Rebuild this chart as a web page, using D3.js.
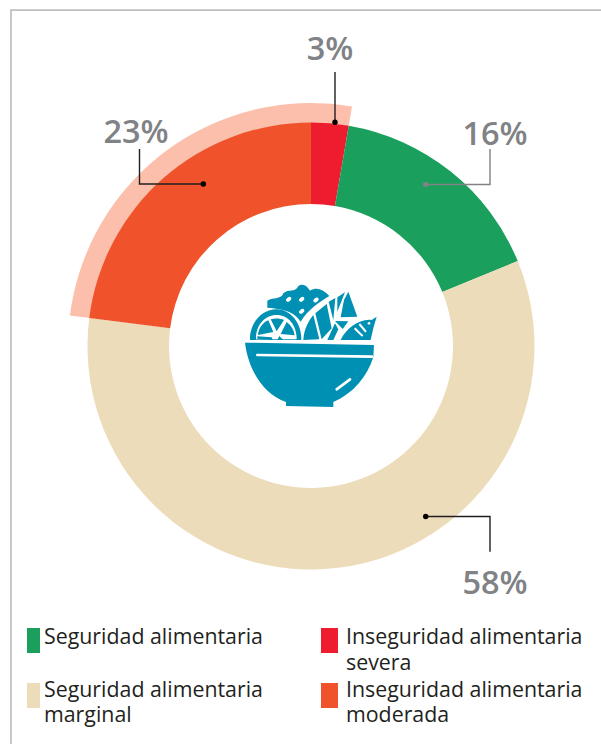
<!DOCTYPE html>
<html>
<head>
<meta charset="utf-8">
<script src="https://cdnjs.cloudflare.com/ajax/libs/d3/7.8.5/d3.min.js"></script>
<style>
  html, body { margin: 0; padding: 0; background: #fff; }
  svg { display: block; }
  text { font-family: "Open Sans", sans-serif; }
</style>
</head>
<body>
<div id="chart"></div>
<script>
// Slice sizes, clockwise from 12 o'clock
const categories = ['Inseguridad alimentaria severa', 'Seguridad alimentaria', 'Seguridad alimentaria marginal', 'Inseguridad alimentaria moderada'];
const shares = [2.7, 16.1, 58.2, 23];
const colors = ['#ED1C2E', '#1A9F5C', '#ECDCB9', '#F0532B'];
const highlighted = ['Inseguridad alimentaria severa', 'Inseguridad alimentaria moderada'];

// Legend order, wrapped lines as printed
const legendItems = [
  { key: 'Seguridad alimentaria', lines: ['Seguridad alimentaria'] },
  { key: 'Inseguridad alimentaria severa', lines: ['Inseguridad alimentaria', 'severa'] },
  { key: 'Seguridad alimentaria marginal', lines: ['Seguridad alimentaria', 'marginal'] },
  { key: 'Inseguridad alimentaria moderada', lines: ['Inseguridad alimentaria', 'moderada'] }
];

const width = 601;
const height = 744;
const cx = 311;
const cy = 346;
const innerR = 142;
const outerR = 223.5;
const haloR = 243;

const svg = d3.select('#chart').append('svg')
  .attr('width', width)
  .attr('height', height);

// Frame, only top and left
svg.append('path')
  .attr('d', `M${width},10.2H11V${height}`)
  .attr('fill', 'none')
  .attr('stroke', '#BFBFBF')
  .attr('stroke-width', 1.7);

const color = d3.scaleOrdinal().domain(categories).range(colors);

const pie = d3.pie().sort(null).value((d, i) => shares[i]);
const arcs = pie(categories);
const arc = d3.arc().innerRadius(innerR).outerRadius(outerR);
const haloArc = d3.arc().innerRadius(outerR - 0.5).outerRadius(haloR);

const g = svg.append('g').attr('transform', `translate(${cx},${cy})`);

// Pale band behind the two food insecurity slices
g.selectAll('path.halo')
  .data(arcs.filter(d => highlighted.includes(d.data)))
  .enter()
  .append('path')
  .attr('class', 'halo')
  .attr('d', haloArc)
  .attr('fill', '#FBBFAB');

g.selectAll('path.slice')
  .data(arcs)
  .enter()
  .append('path')
  .attr('class', 'slice')
  .attr('d', arc)
  .attr('fill', d => color(d.data));

// Leader lines, label anchor positions are per-slice
const leaders = [
  { label: '3%', stroke: '#231F20', d: 'M335,72V122', dot: [335, 122.3], x: 330, y: 60 },
  { label: '16%', stroke: '#808285', d: 'M490,149V184.5H425', dot: [425.7, 184.5], x: 495, y: 145 },
  { label: '58%', stroke: '#231F20', d: 'M490,551.7V516.5H425', dot: [425.7, 516.5], x: 495, y: 594 },
  { label: '23%', stroke: '#231F20', d: 'M139.5,149V184H203', dot: [203.3, 184], x: 136, y: 143 }
];

const leader = svg.append('g').selectAll('g')
  .data(leaders)
  .enter()
  .append('g');

leader.append('path')
  .attr('d', d => d.d)
  .attr('fill', 'none')
  .attr('stroke', d => d.stroke)
  .attr('stroke-width', 1.4);

leader.append('circle')
  .attr('cx', d => d.dot[0])
  .attr('cy', d => d.dot[1])
  .attr('r', 2.7)
  .attr('fill', d => d.stroke === '#808285' ? '#808285' : '#000');

leader.append('text')
  .attr('x', d => d.x)
  .attr('y', d => d.y)
  .attr('text-anchor', 'middle')
  .attr('font-size', 32.5)
  .attr('font-weight', 600)
  .attr('fill', '#808285')
  .text(d => d.label);

// Food bowl icon, traced at 3x from origin (220,260)
const icon = svg.append('g')
  .attr('transform', 'translate(220,260) scale(0.3333)')
  .attr('fill', '#0090B4');

icon.append('path').attr('d', 'M75,248 L462,255 L460,291 C442,350 400,400 340,426 L340,441 L198,438 L198,426 C130,402 85,330 75,248 Z');
icon.append('path').attr('d', 'M112,285 L456,290').attr('stroke', '#fff').attr('stroke-width', 8).attr('stroke-linecap', 'round').attr('fill', 'none');
icon.append('path').attr('d', 'M350,388 L390,358').attr('stroke', '#fff').attr('stroke-width', 8).attr('stroke-linecap', 'round').attr('fill', 'none');

// lettuce
icon.append('path').attr('d', 'M142,143 L142,122 C160,112 185,118 190,100 C205,85 225,100 235,78 C250,68 262,78 270,92 C290,80 310,88 328,108 C300,125 262,150 242,185 C225,160 205,148 142,143 Z');
icon.selectAll('ellipse.hole')
  .data([[206, 118], [245, 118], [288, 120], [245, 154]])
  .enter()
  .append('ellipse')
  .attr('class', 'hole')
  .attr('cx', d => d[0])
  .attr('cy', d => d[1])
  .attr('rx', 9)
  .attr('ry', 6)
  .attr('transform', d => `rotate(-35 ${d[0]} ${d[1]})`)
  .attr('fill', '#fff');

// lime
icon.append('path').attr('d', 'M90,240 C88,190 125,148 170,148 C212,148 245,190 244,240 Z');
icon.append('path').attr('d', 'M108,238 C106,196 135,165 170,165 C205,165 230,196 230,238 Z').attr('fill', '#fff');
icon.append('path').attr('d', 'M114,225 C115,205 128,188 145,181 L160,216 Z M152,178 C165,174 180,175 192,180 L170,214 Z M200,186 C214,196 222,210 224,226 L182,222 Z M112,236 L112,229 L155,232 L158,240 Z M172,240 L178,228 L190,240 Z');

// leaf and fin
icon.append('path').attr('d', 'M250,240 C252,205 268,180 280,165 L298,238 Z M286,160 L320,132 L335,205 L305,238 Z M326,125 L346,114 L340,180 Z M352,112 L375,97 L352,155 Z');
icon.append('path').attr('d', 'M372,120 L385,95 L412,170 L362,172 Z');
icon.append('path').attr('d', 'M322,240 L345,190 L355,208 L340,240 Z M345,183 L385,184 L368,207 Z');
// fish
icon.append('path').attr('d', 'M362,240 C378,205 420,175 455,180 L470,170 L460,205 L452,240 Z');
icon.append('path').attr('d', 'M418,192 C425,200 432,208 438,216 M404,205 C412,213 420,220 428,228').attr('stroke', '#fff').attr('stroke-width', 6).attr('fill', 'none');
icon.append('circle').attr('cx', 447).attr('cy', 190).attr('r', 4).attr('fill', '#fff');

// Legend, text baselines do not sit at the same offset from the swatch in both rows
const legendPos = [[27, 628], [321, 628], [27, 683], [321, 683]];
const legendBaseline = [644.3, 644.3, 696.7, 696.7];
const legendLine = 25.7;

const legend = svg.append('g').selectAll('g')
  .data(legendItems)
  .enter()
  .append('g');

legend.append('rect')
  .attr('x', (d, i) => legendPos[i][0])
  .attr('y', (d, i) => legendPos[i][1])
  .attr('width', (d, i) => i % 2 ? 17 : 13)
  .attr('height', 25)
  .attr('fill', d => color(d.key));

legend.append('text')
  .attr('font-size', 21.35)
  .attr('fill', '#231F20')
  .each(function (d, i) {
    const x = legendPos[i][0] + (i % 2 ? 25 : 17);
    d3.select(this).selectAll('tspan')
      .data(d.lines)
      .enter()
      .append('tspan')
      .attr('x', x)
      .attr('y', (t, j) => legendBaseline[i] + j * legendLine)
      .text(t => t);
  });
</script>
</body>
</html>
